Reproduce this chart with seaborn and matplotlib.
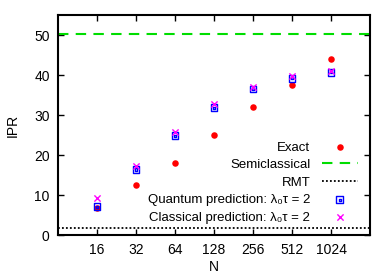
import numpy as np
import pandas as pd
import matplotlib
matplotlib.use("Agg")
import matplotlib.pyplot as plt
from matplotlib.path import Path
import seaborn as sns

# data
N = [16, 32, 64, 128, 256, 512, 1024]
exact = [6.7, 12.5, 17.9, 25.1, 32.1, 37.5, 44.0]
quantum = [7.1, 16.4, 24.8, 31.8, 36.5, 39.2, 40.7]
classical = [9.2, 17.3, 25.8, 32.7, 37.1, 39.7, 41.0]
semiclassical = 50.2
rmt = 1.7

df = pd.DataFrame({"N": N, "exact": exact, "quantum": quantum, "classical": classical})

sns.set_style("ticks", rc={"axes.edgecolor": "black", "text.color": "black",
                           "axes.labelcolor": "black", "xtick.color": "black",
                           "ytick.color": "black"})
plt.rcParams["font.family"] = ["Liberation Sans", "DejaVu Sans"]

# boxed-dot marker (square with small square inside)
outer = [(-1, -1), (1, -1), (1, 1), (-1, 1), (-1, -1)]
inner = [(-0.3, -0.3), (0.3, -0.3), (0.3, 0.3), (-0.3, 0.3), (-0.3, -0.3)]
codes = [Path.MOVETO, Path.LINETO, Path.LINETO, Path.LINETO, Path.CLOSEPOLY]
boxdot = Path(outer + inner, codes + codes)

fig = plt.figure(figsize=(3.92, 2.74), dpi=100)
ax = fig.add_axes([0.148, 0.142, 0.796, 0.803])

sns.scatterplot(data=df, x="N", y="exact", ax=ax, color="red", marker="o",
                s=22, linewidth=0, label="Exact", zorder=3)
ax.axhline(semiclassical, color="#00dd00", lw=1.5, ls=(0, (5, 3.5)), label="Semiclassical")
ax.axhline(rmt, color="black", lw=1.3, ls=(0, (1, 1.2)), label="RMT")
sns.scatterplot(data=df, x="N", y="quantum", ax=ax, marker=boxdot, s=24,
                facecolor="none", edgecolor="blue", linewidth=1.0,
                label="Quantum prediction: λ₀τ = 2", zorder=3)
sns.scatterplot(data=df, x="N", y="classical", ax=ax, marker="x", s=20,
                color="magenta", linewidth=1.0,
                label="Classical prediction: λ₀τ = 2", zorder=3)

ax.set_xscale("log", base=2)
ax.set_xlim(8, 2048)
ax.set_ylim(0, 55)
ax.set_xticks(N)
ax.set_xticklabels([str(n) for n in N])
ax.minorticks_off()
ax.set_yticks([0, 10, 20, 30, 40, 50])
ax.tick_params(direction="in", top=True, right=True, length=4, width=1,
               labelsize=10, pad=6)
for sp in ax.spines.values():
    sp.set_linewidth(1.5)

ax.set_xlabel("N", fontsize=10, labelpad=2)
ax.set_ylabel("IPR", fontsize=10, labelpad=10)

leg = ax.legend(loc="lower right", frameon=False, markerfirst=False, fontsize=9.5,
                handlelength=2.7, handletextpad=0.9, labelspacing=0.4,
                borderaxespad=0.3, bbox_to_anchor=(0.99, 0.01))
for t in leg.get_texts():
    t.set_ha("right")
leg._legend_box.align = "right"

fig.savefig("out.png", dpi=100)
